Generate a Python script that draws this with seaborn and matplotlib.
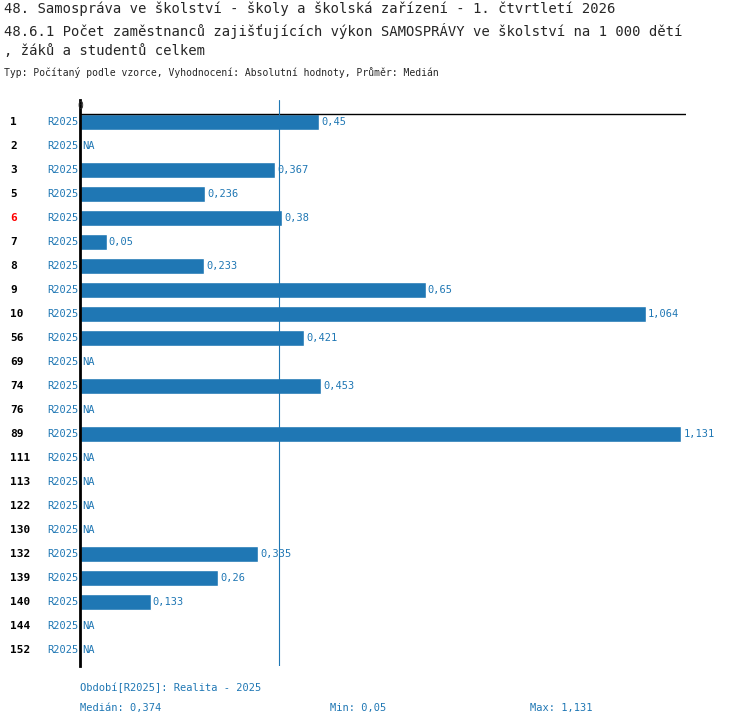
import matplotlib
matplotlib.use("Agg")
import matplotlib.pyplot as plt
import seaborn as sns
import numpy as np

codes = ["1", "2", "3", "5", "6", "7", "8", "9", "10", "56", "69", "74", "76", "89",
         "111", "113", "122", "130", "132", "139", "140", "144", "152"]
values = [0.45, None, 0.367, 0.236, 0.38, 0.05, 0.233, 0.65, 1.064, 0.421, None, 0.453,
          None, 1.131, None, None, None, None, 0.335, 0.26, 0.133, None, None]
value_labels = ["0,45", "NA", "0,367", "0,236", "0,38", "0,05", "0,233", "0,65", "1,064",
                "0,421", "NA", "0,453", "NA", "1,131", "NA", "NA", "NA", "NA", "0,335",
                "0,26", "0,133", "NA", "NA"]
period = "R2025"
median = 0.374
highlight = "6"

sns.set_style("white")
plt.rcParams['font.family'] = ['DejaVu Sans Mono']
blue = "#1f77b4"

fig = plt.figure(figsize=(7.5, 7.26), dpi=100)
ax = fig.add_axes([80/750, 1-666/726, 606/750, 566/726])

ypos = np.arange(len(codes))
vals = [v if v is not None else 0 for v in values]
sns.barplot(x=vals, y=ypos, orient="h", color=blue, width=0.67, ax=ax, saturation=1, native_scale=True)

ax.set_xlim(0, 1.14)
ax.set_ylim(22.67, -0.917)
for s in ["top", "right", "bottom"]:
    ax.spines[s].set_visible(False)
ax.spines["left"].set_linewidth(2)
ax.spines["left"].set_color("black")
ax.set_xticks([]); ax.set_yticks([])
ax.set_xlabel(""); ax.set_ylabel("")
ax.axhline(-0.33, color="black", lw=1)
ax.axvline(median, color=blue, lw=0.8)
ax.text(0, -0.45, "0", ha="center", va="bottom", fontsize=7)

for i, (c, v, lab) in enumerate(zip(codes, values, value_labels)):
    ax.text(-0.003, i, period, ha="right", va="center", fontsize=7.5, color=blue)
    ax.text(v + 0.004 if v is not None else 0.004, i, lab, ha="left", va="center",
            fontsize=7.5, color=blue)
    fig.text(10/750, 1 - (122 + 24*i)/726, c, ha="left", va="center", fontsize=8,
             fontweight="bold", color="red" if c == highlight else "black")

fig.text(4/750, 1-9/726, "48. Samospráva ve školství - školy a školská zařízení - 1. čtvrtletí 2026",
         fontsize=10, va="center")
fig.text(4/750, 1-31/726, "48.6.1 Počet zaměstnanců zajišťujících výkon SAMOSPRÁVY ve školství na 1 000 dětí",
         fontsize=10, va="center")
fig.text(4/750, 1-51/726, ", žáků a studentů celkem", fontsize=10, va="center")
fig.text(4/750, 1-73/726, "Typ: Počítaný podle vzorce, Vyhodnocení: Absolutní hodnoty, Průměr: Medián",
         fontsize=7, va="center")
fig.text(80/750, 1-688/726, "Období[R2025]: Realita - 2025", fontsize=7.5, color=blue, va="center")
fig.text(80/750, 1-708/726, "Medián: 0,374", fontsize=7.5, color=blue, va="center")
fig.text(330/750, 1-708/726, "Min: 0,05", fontsize=7.5, color=blue, va="center")
fig.text(530/750, 1-708/726, "Max: 1,131", fontsize=7.5, color=blue, va="center")

fig.savefig("out.png", dpi=100)
